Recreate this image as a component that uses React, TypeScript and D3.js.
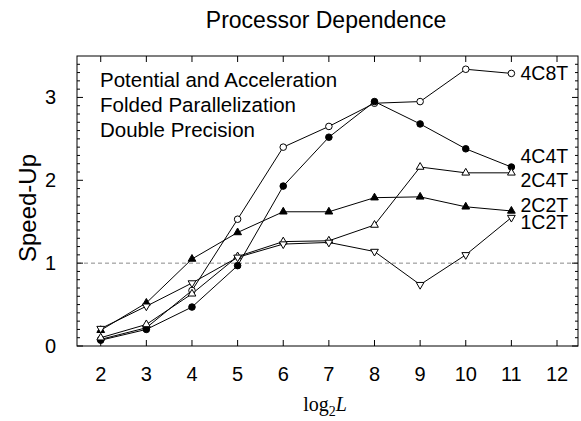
import * as d3 from "d3";
import { useEffect, useRef } from "react";

// values
const log2L = [2, 3, 4, 5, 6, 7, 8, 9, 10, 11];
const s4C8T = [0.08, 0.22, 0.67, 1.53, 2.4, 2.65, 2.93, 2.95, 3.34, 3.29];
const s4C4T = [0.07, 0.2, 0.47, 0.97, 1.93, 2.52, 2.95, 2.68, 2.38, 2.16];
const s2C4T = [0.1, 0.26, 0.63, 1.08, 1.26, 1.27, 1.46, 2.16, 2.09, 2.09];
const s2C2T = [0.19, 0.52, 1.05, 1.37, 1.62, 1.62, 1.79, 1.8, 1.68, 1.63];
const s1C2T = [0.21, 0.48, 0.76, 1.07, 1.23, 1.25, 1.14, 0.74, 1.1, 1.55];

const seriesNames = ["4C8T", "4C4T", "2C4T", "2C2T", "1C2T"];
const seriesLabelY = [3.3, 2.29, 2.0, 1.7, 1.5];
const xTicks = [2, 3, 4, 5, 6, 7, 8, 9, 10, 11, 12];
const yTicks = [0, 1, 2, 3];
const notes = ["Potential and Acceleration", "Folded Parallelization", "Double Precision"];

const SANS = "'Liberation Sans', Arial, Helvetica, sans-serif";

const App = () => {
  const svgRef = useRef<SVGSVGElement>(null);

  useEffect(() => {
    const svg = d3.select(svgRef.current);
    svg.selectAll("*").remove();

    const width = 581;
    const height = 421;
    const margin = { top: 56, right: 3, bottom: 75, left: 77 };

    const x = d3
      .scaleLinear()
      .domain([1.48, 12.46])
      .range([margin.left, width - margin.right]);
    const y = d3
      .scaleLinear()
      .domain([0, 3.5])
      .range([height - margin.bottom, margin.top]);

    const [x0, x1] = x.range();
    const [yb, yt] = y.range();

    const label = (
      g: any,
      px: number,
      py: number,
      str: string,
      size: number,
      anchor = "start"
    ) =>
      g
        .append("text")
        .attr("x", px)
        .attr("y", py)
        .attr("text-anchor", anchor)
        .attr("font-family", SANS)
        .attr("font-size", size)
        .attr("fill", "black")
        .text(str);

    svg.append("rect").attr("width", width).attr("height", height).attr("fill", "white");

    // title
    label(svg, 326, 28, "Processor Dependence", 23, "middle");

    // dashed line at 1
    svg
      .append("line")
      .attr("x1", x0)
      .attr("x2", x1)
      .attr("y1", y(1))
      .attr("y2", y(1))
      .attr("stroke", "#8a8a8a")
      .attr("stroke-width", 1)
      .attr("stroke-dasharray", "4,3");

    const ticks = svg.append("g").attr("stroke", "black").attr("stroke-width", 1);

    // x ticks bottom and top (inward)
    xTicks.forEach((t) => {
      ticks.append("line").attr("x1", x(t)).attr("x2", x(t)).attr("y1", yb).attr("y2", yb - 6);
      ticks.append("line").attr("x1", x(t)).attr("x2", x(t)).attr("y1", yt).attr("y2", yt + 6);
    });

    // y ticks, minor every 0.1
    d3.range(0, 35).forEach((i) => {
      const v = i / 10;
      const len = i % 10 === 0 ? 6 : 3;
      ticks.append("line").attr("x1", x0).attr("x2", x0 + len).attr("y1", y(v)).attr("y2", y(v));
      ticks.append("line").attr("x1", x1).attr("x2", x1 - len).attr("y1", y(v)).attr("y2", y(v));
    });

    // frame
    svg
      .append("rect")
      .attr("x", x0)
      .attr("y", yt)
      .attr("width", x1 - x0)
      .attr("height", yb - yt)
      .attr("fill", "none")
      .attr("stroke", "black")
      .attr("stroke-width", 1);

    // tick labels
    xTicks.forEach((t) => label(svg, x(t), 381, String(t), 20, "middle"));
    yTicks.forEach((t) => label(svg, 56, y(t) + 7, String(t), 20, "end"));

    // axis titles
    svg
      .append("text")
      .attr("transform", `translate(36,${(yb + yt) / 2 + 7}) rotate(-90)`)
      .attr("text-anchor", "middle")
      .attr("font-family", SANS)
      .attr("font-size", 24)
      .text("Speed-Up");

    const xl = svg
      .append("text")
      .attr("x", 325)
      .attr("y", 411)
      .attr("text-anchor", "middle")
      .attr("font-family", "'Liberation Serif', 'Times New Roman', serif")
      .attr("font-size", 20);
    xl.append("tspan").text("log");
    xl.append("tspan").attr("font-size", 14).attr("dy", 5).text("2");
    xl.append("tspan").attr("font-style", "italic").attr("dy", -5).text("L");

    // notes
    notes.forEach((n, i) => label(svg, x0 + 23, yt + 31 + i * 25, n, 20.5));

    // series
    const all = [s4C8T, s4C4T, s2C4T, s2C2T, s1C2T];
    const line = d3
      .line<number>()
      .x((d, i) => x(log2L[i]))
      .y((d) => y(d));

    const markers = [
      { type: d3.symbolCircle, size: 34, fill: "white", rot: 0 },
      { type: d3.symbolCircle, size: 34, fill: "black", rot: 0 },
      { type: d3.symbolTriangle, size: 26, fill: "white", rot: 0 },
      { type: d3.symbolTriangle, size: 26, fill: "black", rot: 0 },
      { type: d3.symbolTriangle, size: 26, fill: "white", rot: 180 },
    ];

    all.forEach((vals) => {
      svg
        .append("path")
        .attr("d", line(vals))
        .attr("fill", "none")
        .attr("stroke", "black")
        .attr("stroke-width", 1);
    });

    all.forEach((vals, k) => {
      const m = markers[k];
      svg
        .selectAll(`path.m${k}`)
        .data(vals)
        .enter()
        .append("path")
        .attr("class", `m${k}`)
        .attr("d", d3.symbol().type(m.type).size(m.size)())
        .attr("transform", (d, i) => `translate(${x(log2L[i])},${y(d)}) rotate(${m.rot})`)
        .attr("fill", m.fill)
        .attr("stroke", "black")
        .attr("stroke-width", 1);
    });

    // series labels
    seriesNames.forEach((s, k) => label(svg, x(11.2), y(seriesLabelY[k]) + 7, s, 19.5));
  }, []);

  return (
    <svg
      ref={svgRef}
      width={581}
      height={421}
      style={{ position: "absolute", left: 0, top: 0 }}
    ></svg>
  );
};

export default App;
